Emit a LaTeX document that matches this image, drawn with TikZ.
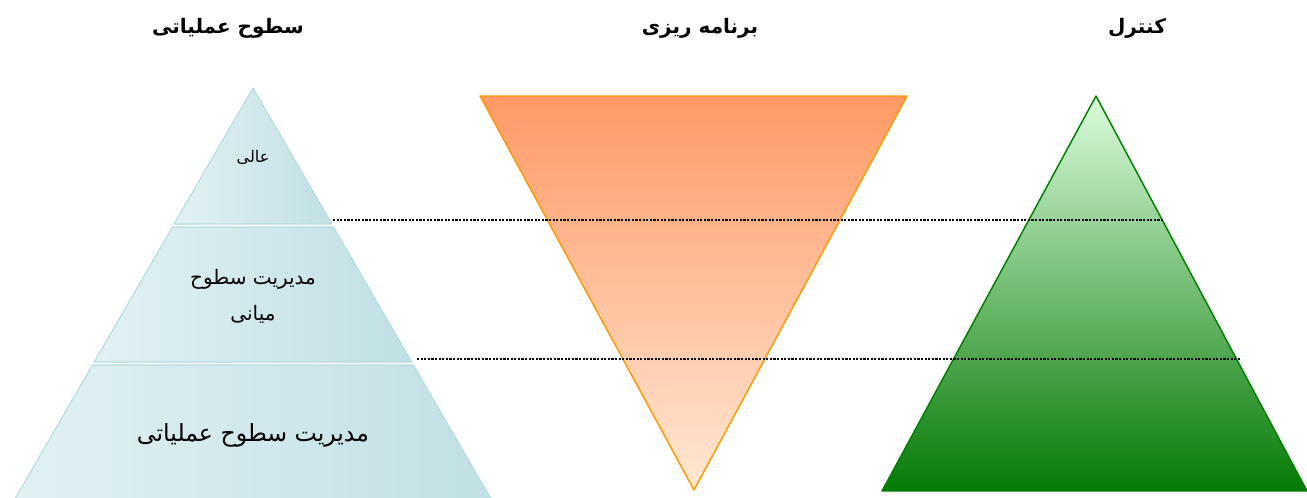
\documentclass[tikz,border=0pt]{standalone}
\usepackage{fontspec}
\newfontfamily\arabicfont[Script=Arabic]{DejaVu Sans}
\TeXXeTstate=1
\definecolor{bandline}{HTML}{B4DCE0}
\definecolor{bandlight}{HTML}{E2F1F3}
\definecolor{banddark}{HTML}{C0E0E4}
\definecolor{planedge}{HTML}{FF9A00}
\definecolor{plantop}{HTML}{FF9966}
\definecolor{planbot}{HTML}{FFE8D4}
\definecolor{ctrledge}{HTML}{008000}
\definecolor{ctrltop}{HTML}{DCFCDC}
\definecolor{ctrlbot}{HTML}{057A05}

\begin{document}
\begin{tikzpicture}[x=0.75pt,y=-0.75pt,line join=round,
  band/.style={draw=bandline,line width=0.8pt,left color=bandlight,right color=banddark},
  headtext/.style={font=\arabicfont\bfseries\fontsize{15}{17}\selectfont},
  bandtext/.style={font=\arabicfont\fontsize{15}{27}\selectfont,align=center},
  dotline/.style={line width=1.6pt,dash pattern=on 1.6pt off 1.1pt}]
  \useasboundingbox (0,0) rectangle (1307,497);
  \clip (0,0) rectangle (1307,497);

  % levels pyramid
  \shade[band] (253,88) -- (332,224) -- (174,224) -- cycle;
  \shade[band] (172.5,227) -- (333.5,227) -- (411.8,362) -- (94.2,362) -- cycle;
  \shade[band] (92.5,365) -- (413.5,365) -- (497.5,510) -- (8.5,510) -- cycle;

  % planning
  \shade[draw=planedge,line width=1.1pt,top color=plantop,bottom color=planbot]
    (480,96) -- (907,96) -- (694,490) -- cycle;

  % control
  \shade[draw=ctrledge,line width=1.1pt,top color=ctrltop,bottom color=ctrlbot]
    (1096,96) -- (1307,491) -- (882,491) -- cycle;

  \coordinate (upa) at (333,220);
  \coordinate (upb) at (1164,220);
  \coordinate (lowa) at (417,359);
  \coordinate (lowb) at (1240,359);
  \draw[dotline] (upa) -- (upb);
  \draw[dotline] (lowa) -- (lowb);

  \node[headtext] (hops) at (228,28) {\beginR سطوح عملیاتی\endR};
  \node[headtext] (hplan) at (700,28) {\beginR برنامه ریزی\endR};
  \node[headtext] (hctrl) at (1137,28) {\beginR کنترل\endR};

  \node[bandtext,font=\arabicfont\fontsize{12}{14}\selectfont] (top) at (253,157) {\beginR عالی\endR};
  \node[bandtext] (mid) at (253,296) {\beginR مدیریت سطوح\endR\\\beginR میانی\endR};
  \node[bandtext,font=\arabicfont\fontsize{17.7}{20}\selectfont] (base) at (253,435) {\beginR مدیریت سطوح عملیاتی\endR};
\end{tikzpicture}
\end{document}
